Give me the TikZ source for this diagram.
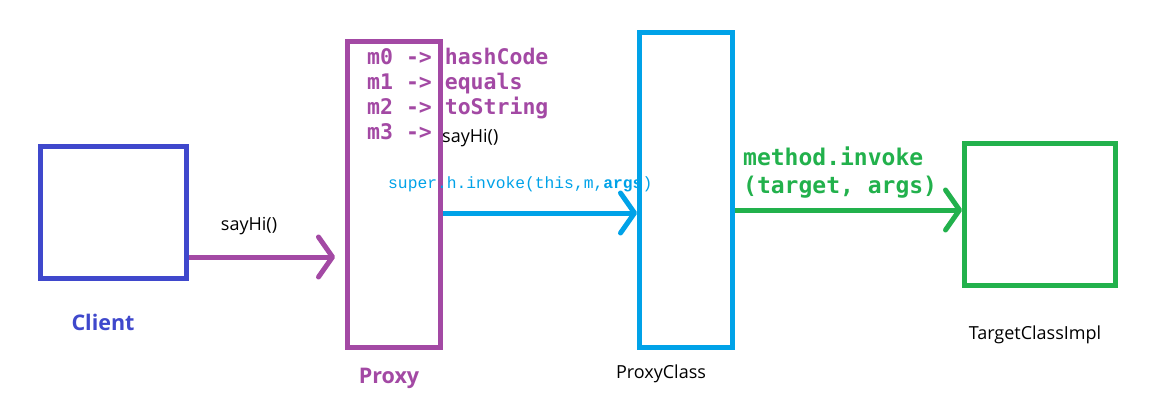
\documentclass[tikz,border=0pt]{standalone}
\usepackage{fontspec}
\setmainfont{Open Sans}
\newfontfamily\codefont{DejaVu Sans Mono}
\newfontfamily\smallcode{Liberation Mono}
\usetikzlibrary{arrows.meta}
\definecolor{cblue}{HTML}{3F48CC}
\definecolor{ppurple}{HTML}{A349A4}
\definecolor{sblue}{HTML}{00A2E8}
\definecolor{tgreen}{HTML}{22B14C}
\tikzset{
  box/.style={draw, line width=5pt, inner sep=0pt, rectangle},
  conn/.style={line width=5pt, -{Straight Barb[length=14pt,width=40pt,line cap=round,line join=round]}},
  lbl/.style={inner sep=0pt, font=\fontsize{18}{21}\selectfont, text=black},
  bigl/.style={inner sep=0pt, font=\fontsize{21.5}{25}\selectfont\bfseries},
  mcode/.style={inner sep=0pt, anchor=base west, font=\fontsize{21.5}{25}\selectfont\codefont\bfseries, text=ppurple},
  gcode/.style={inner sep=0pt, anchor=base west, font=\fontsize{23}{28}\selectfont\codefont\bfseries, text=tgreen},
}
\begin{document}
\begin{tikzpicture}[x=1pt,y=-1pt]
\useasboundingbox (0,0) rectangle (1172,412);
% boxes
\node[box, draw=cblue, minimum width=145.5pt, minimum height=132pt] (client) at (113.25,212.5) {};
\node[box, draw=ppurple, minimum width=93pt, minimum height=306pt] (proxy) at (394,194.5) {};
\node[box, draw=sblue, minimum width=93pt, minimum height=315pt] (pclass) at (686,190) {};
\node[box, draw=tgreen, minimum width=151pt, minimum height=142pt] (target) at (1040,214.5) {};
% labels
\node[bigl, text=cblue] (clientl) at (103,322) {Client};
\node[bigl, text=ppurple] (proxyl) at (389,378) {Proxy};
\node[lbl] (pclassl) at (661,374) {ProxyClass};
\node[lbl] (targetl) at (1035,335) {TargetClassImpl};
\node[lbl] (say1) at (249,226) {sayHi()};
% method table
\node[mcode] (m0) at (367,64.5) {m0 -> hashCode};
\node[mcode] (m1) at (367,89.5) {m1 -> equals};
\node[mcode] (m2) at (367,114.5) {m2 -> toString};
\node[mcode] (m3) at (367,139.5) {m3 ->};
\node[lbl, anchor=west] (say2) at (442,138) {sayHi()};
\node[inner sep=0pt, anchor=west, font=\fontsize{16.3}{19}\selectfont\smallcode, text=sblue] (super) at (388,184) {super.h.invoke(this,m,\textbf{args})};
\node[gcode] (mi1) at (743,165) {method.invoke};
\node[gcode] (mi2) at (743,193) {(target, args)};
% connectors
\coordinate (c1) at (335,257);
\draw[conn, ppurple] (client.east |- c1) -- (c1);
\coordinate (c2) at (0,213);
\draw[conn, sblue] (proxy.east |- c2) -- (pclass.west |- c2);
\coordinate (c3) at (0,210);
\draw[conn, tgreen] (pclass.east |- c3) -- (target.west |- c3);
\end{tikzpicture}
\end{document}
